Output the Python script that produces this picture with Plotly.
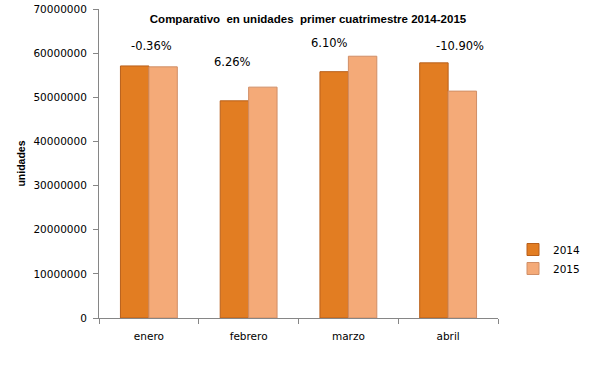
import plotly.graph_objects as go

categories = ["enero", "febrero", "marzo", "abril"]
series_names = ["2014", "2015"]
values_2014 = [57100000, 49200000, 55800000, 57800000]
values_2015 = [56900000, 52300000, 59300000, 51400000]
pct_labels = ["-0.36%", "6.26%", "6.10%", "-10.90%"]
pct_label_y = [61600000, 58000000, 62300000, 61600000]
pct_label_dx = [0.03, -0.16, -0.19, 0.12]
y_ticks = [0, 10000000, 20000000, 30000000, 40000000, 50000000, 60000000, 70000000]

colors = ["#E27D22", "#F4AA78"]
line_colors = ["#B85F1A", "#D08E66"]

W, H = 614, 385

fig = go.Figure()
for name, vals, c, lc in zip(series_names, [values_2014, values_2015], colors, line_colors):
    fig.add_trace(go.Bar(
        x=categories, y=vals, name=name,
        marker=dict(color=c, line=dict(color=lc, width=1)),
    ))

for i, (lab, yv, dx) in enumerate(zip(pct_labels, pct_label_y, pct_label_dx)):
    fig.add_annotation(
        x=i + dx, y=yv, xref="x", yref="y", text=lab, showarrow=False,
        font=dict(family="DejaVu Sans", size=11.5, color="#000000"),
    )

fig.update_layout(
    width=W, height=H,
    margin=dict(l=99, r=W - 498, t=9, b=H - 318, autoexpand=False),
    paper_bgcolor="white", plot_bgcolor="white",
    barmode="group", bargap=0.43, bargroupgap=0,
    title=dict(
        text="<b>Comparativo  en unidades  primer cuatrimestre 2014-2015</b>",
        x=308 / W, xanchor="center", xref="container", y=1 - 19 / H,
        yref="container", yanchor="middle", automargin=False,
        font=dict(family="Liberation Sans", size=11.5, color="#000000"),
    ),
    legend=dict(
        x=513 / W, xref="container", y=1 - 259 / H, yref="container",
        xanchor="left", yanchor="middle", itemwidth=30,
        font=dict(family="DejaVu Sans", size=10.5, color="#000000"),
        tracegroupgap=2, bgcolor="rgba(0,0,0,0)",
    ),
    font=dict(family="DejaVu Sans", size=10.5, color="#000000"),
)

fig.update_xaxes(
    type="category", tickson="boundaries", ticks="outside", ticklen=5,
    tickcolor="#868686", showline=True, linecolor="#868686", linewidth=1,
    showgrid=False, automargin=False, ticklabelstandoff=8,
    tickfont=dict(family="DejaVu Sans", size=10.5),
)
fig.update_yaxes(
    range=[0, 70000000], tickvals=y_ticks, ticktext=[str(v) for v in y_ticks],
    ticks="outside", ticklen=5, tickcolor="#868686", showline=True,
    linecolor="#868686", linewidth=1, showgrid=False, zeroline=False,
    automargin=False, ticklabelstandoff=4,
    tickfont=dict(family="DejaVu Sans", size=10.5),
    title=dict(text="<b>unidades</b>", standoff=5,
               font=dict(family="Liberation Sans", size=10.5)),
)

fig.write_html("out.html", config={"displayModeBar": False},
               post_script="document.body.style.margin='0px';")
